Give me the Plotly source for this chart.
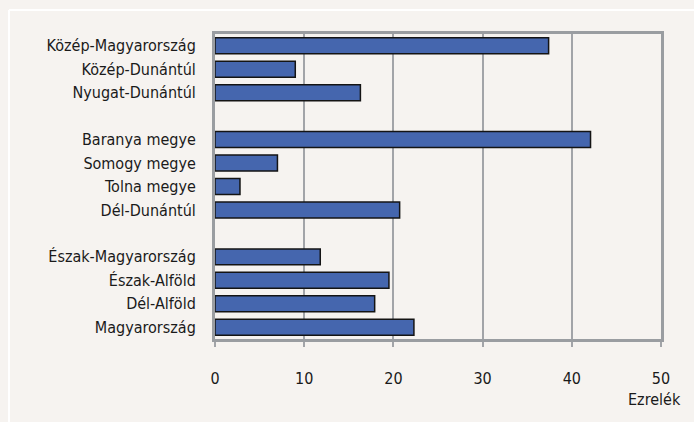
import plotly.graph_objects as go

categories = [
    "Közép-Magyarország", "Közép-Dunántúl", "Nyugat-Dunántúl", " ",
    "Baranya megye", "Somogy megye", "Tolna megye", "Dél-Dunántúl", "  ",
    "Észak-Magyarország", "Észak-Alföld", "Dél-Alföld", "Magyarország",
]
values = [37.4, 9.0, 16.3, None, 42.1, 7.0, 2.8, 20.7, None, 11.8, 19.5, 17.9, 22.3]
x_ticks = [0, 10, 20, 30, 40, 50]
axis_title = "Ezrelék"

BG = "#f6f3f0"
FONT = "DejaVu Sans Condensed, sans-serif"

fig = go.Figure(go.Bar(
    y=categories, x=values, orientation="h",
    marker=dict(color="#4566ae", line=dict(color="#141414", width=1.5)),
))

fig.update_layout(
    width=694, height=422,
    margin=dict(l=215, r=33, t=34, b=83),
    paper_bgcolor=BG, plot_bgcolor=BG,
    font=dict(family=FONT, size=16, color="#1a1a1a"),
    bargap=0.32,
    showlegend=False,
    xaxis=dict(
        range=[0, 50], tickvals=x_ticks, showgrid=True,
        gridcolor="#a2a4a8", gridwidth=1.5,
        showline=True, mirror=True, linecolor="#9a9da1", linewidth=3,
        ticks="outside", ticklen=5, tickcolor="#a2a4a8", tickwidth=1.5,
        ticklabelstandoff=18, zeroline=False,
    ),
    yaxis=dict(
        categoryorder="array", categoryarray=categories, autorange="reversed",
        showline=True, mirror=True, linecolor="#9a9da1", linewidth=3,
        showgrid=False, ticks="", ticklabelstandoff=13,
    ),
    annotations=[dict(
        text=axis_title, xref="paper", yref="paper", x=1.05, y=-0.197,
        xanchor="right", yanchor="middle", showarrow=False,
        font=dict(family=FONT, size=16, color="#1a1a1a"),
    )],
    shapes=[
        dict(type="line", xref="paper", yref="paper", x0=-0.462, x1=1.08, y0=1.0787, y1=1.0787,
             line=dict(color="#ffffff", width=2)),
        dict(type="line", xref="paper", yref="paper", x0=-0.462, x1=-0.462, y0=1.0787, y1=-0.28,
             line=dict(color="#ffffff", width=2)),
    ],
)

fig.write_html(
    "out.html",
    config={"displayModeBar": False},
    post_script=["document.body.style.margin='0';document.body.style.background='#f6f3f0';"],
)
